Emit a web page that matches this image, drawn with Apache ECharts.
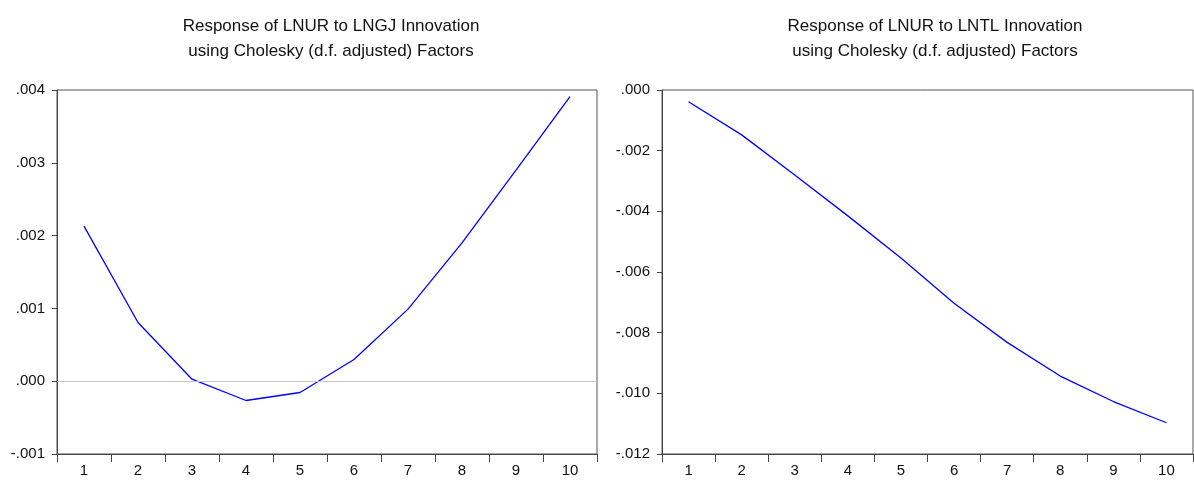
<!DOCTYPE html>
<html>
<head>
<meta charset="utf-8">
<script src="https://cdn.jsdelivr.net/npm/echarts@6/dist/echarts.min.js"></script>
<style>
html,body{margin:0;padding:0;background:#fff;}
#c{width:1194px;height:481px;}
</style>
</head>
<body>
<div id="c"></div>
<script>
const periods = ['1','2','3','4','5','6','7','8','9','10'];
const respLNGJ = [0.00213, 0.000806, 0.0000275, -0.000265, -0.000155, 0.000298, 0.00099, 0.0019, 0.0029, 0.00391];
const respLNTL = [-0.000386, -0.00148, -0.0028, -0.00415, -0.00554, -0.00703, -0.00832, -0.00943, -0.01027, -0.01097];
const titleLeft = 'Response of LNUR to LNGJ Innovation\nusing Cholesky (d.f. adjusted) Factors';
const titleRight = 'Response of LNUR to LNTL Innovation\nusing Cholesky (d.f. adjusted) Factors';

const fontFam = '"Liberation Sans", Arial, sans-serif';
function fmt(v){
  let s = Math.abs(v) < 1e-12 ? '0.000' : Math.abs(v).toFixed(3);
  s = s.replace(/^0/, '');
  return (v < -1e-12 ? '-' : '') + s;
}
function xAxis(i){
  return {
    type:'category', gridIndex:i, data:periods, boundaryGap:true,
    axisLine:{show:true, onZero:false, lineStyle:{color:'#444', width:1}},
    axisTick:{show:true, length:8, lineStyle:{color:'#444'}},
    axisLabel:{color:'#111', fontSize:15, fontFamily:fontFam, margin:9}
  };
}
function yAxis(i, min, max, interval){
  return {
    type:'value', gridIndex:i, min:min, max:max, interval:interval,
    axisLine:{show:true, lineStyle:{color:'#444', width:1}},
    axisTick:{show:true, length:5, lineStyle:{color:'#444'}},
    splitLine:{show:false},
    axisLabel:{color:'#111', fontSize:15, fontFamily:fontFam, margin:12, formatter:fmt}
  };
}
const chart = echarts.init(document.getElementById('c'), null, {renderer:'canvas'});
chart.setOption({
  animation:false,
  backgroundColor:'#fff',
  title:[
    {text:titleLeft, left:326, top:9, textAlign:'center',
     textStyle:{fontSize:17, fontWeight:'normal', color:'#111', fontFamily:fontFam, lineHeight:25}},
    {text:titleRight, left:930, top:9, textAlign:'center',
     textStyle:{fontSize:17, fontWeight:'normal', color:'#111', fontFamily:fontFam, lineHeight:25}}
  ],
  grid:[
    {left:57, top:90, right:597, bottom:27, show:true, borderColor:'#555', borderWidth:1, containLabel:false},
    {left:662, top:90, right:1, bottom:27, show:true, borderColor:'#555', borderWidth:1, containLabel:false}
  ],
  xAxis:[xAxis(0), xAxis(1)],
  yAxis:[yAxis(0, -0.001, 0.004, 0.001), yAxis(1, -0.012, 0, 0.002)],
  series:[
    {type:'line', xAxisIndex:0, yAxisIndex:0, data:[], z:1, silent:true,
     markLine:{silent:true, symbol:'none', label:{show:false},
       lineStyle:{color:'#c8c8c8', type:'solid', width:1}, data:[{yAxis:0}]}},
    {type:'line', xAxisIndex:0, yAxisIndex:0, data:respLNGJ, symbol:'none', z:3,
     lineStyle:{color:'#0000ff', width:1.3}},
    {type:'line', xAxisIndex:1, yAxisIndex:1, data:respLNTL, symbol:'none', z:3,
     lineStyle:{color:'#0000ff', width:1.3}}
  ]
});
</script>
</body>
</html>
